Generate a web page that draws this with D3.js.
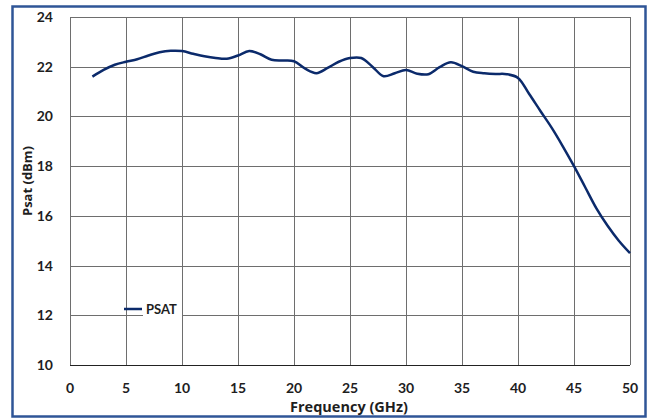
<!DOCTYPE html>
<html lang="en">
<head>
    <meta charset="UTF-8">
    <title>psat</title>
    <style>
        body { margin: 0; background: #fff; }
        text { font-family: Lato, "Open Sans", sans-serif; font-weight: bold; fill: #1e1e1e; }
        .title { font-family: "Open Sans", Lato, sans-serif; }
    </style>
</head>
<body>
<script src="https://cdn.jsdelivr.net/npm/d3@7"></script>
<script>

// frequency (GHz) and saturated power (dBm)
const freq = [2, 3, 4, 5, 6, 7, 8, 9, 10, 11, 12, 13, 14, 15, 16, 17, 18, 19, 20,
    21, 22, 23, 24, 25, 26, 27, 28, 29, 30, 31, 32, 33, 34, 35, 36, 37, 38, 39, 40,
    41, 42, 43, 44, 45, 46, 47, 48, 49, 50];
const psat = [21.6, 21.87, 22.08, 22.2, 22.3, 22.45, 22.58, 22.64, 22.63, 22.52, 22.42,
    22.35, 22.32, 22.45, 22.63, 22.5, 22.28, 22.25, 22.22, 21.92, 21.74, 21.95, 22.2,
    22.35, 22.35, 22.0, 21.62, 21.74, 21.87, 21.72, 21.7, 21.98, 22.18, 22.02, 21.8,
    21.74, 21.71, 21.7, 21.55, 20.9, 20.22, 19.55, 18.8, 18.0, 17.15, 16.3, 15.6, 15.0, 14.5];

const xTicks = [0, 5, 10, 15, 20, 25, 30, 35, 40, 45, 50];
const yTicks = [10, 12, 14, 16, 18, 20, 22, 24];
const seriesName = 'PSAT';

const width = 654, height = 419;
const lineColor = '#0b2a6b';
const frameColor = '#2f5597';
const gridColor = '#6e6e6e';

let svg = d3.select('body')
    .append('svg')
    .attr('width', width)
    .attr('height', height);

// frame
svg.append('rect')
    .attr('x', 12.5)
    .attr('y', 6.5)
    .attr('width', 633)
    .attr('height', 410)
    .attr('fill', 'white')
    .attr('stroke', frameColor)
    .attr('stroke-width', 2.5);

let x = d3.scaleLinear().domain([0, 50]).range([70, 630]);
let y = d3.scaleLinear().domain([10, 24]).range([365, 17]);

// grid
svg.selectAll('.vgrid')
    .data(xTicks)
    .enter()
    .append('line')
    .attr('class', 'vgrid')
    .attr('x1', d => Math.round(x(d)) + 0.5)
    .attr('x2', d => Math.round(x(d)) + 0.5)
    .attr('y1', y(24))
    .attr('y2', y(10))
    .attr('stroke', gridColor)
    .attr('stroke-width', 1);

svg.selectAll('.hgrid')
    .data(yTicks)
    .enter()
    .append('line')
    .attr('class', 'hgrid')
    .attr('x1', x(0))
    .attr('x2', x(50))
    .attr('y1', d => Math.round(y(d)) + 0.5)
    .attr('y2', d => Math.round(y(d)) + 0.5)
    .attr('stroke', d => d === 10 ? '#222' : gridColor)
    .attr('stroke-width', 1);

// tick labels
svg.selectAll('.xlab')
    .data(xTicks)
    .enter()
    .append('text')
    .attr('class', 'xlab')
    .attr('x', d => x(d))
    .attr('y', 393)
    .attr('text-anchor', 'middle')
    .style('font-size', '14px')
    .text(d => d);

svg.selectAll('.ylab')
    .data(yTicks)
    .enter()
    .append('text')
    .attr('class', 'ylab')
    .attr('x', 53)
    .attr('y', d => y(d) + 5)
    .attr('text-anchor', 'end')
    .style('font-size', '14px')
    .text(d => d);

// axis titles
svg.append('text')
    .attr('class', 'title')
    .attr('x', 349)
    .attr('y', 412)
    .attr('text-anchor', 'middle')
    .style('font-size', '14.5px')
    .text('Frequency (GHz)');

svg.append('text')
    .attr('class', 'title')
    .attr('transform', 'translate(32,181) rotate(-90)')
    .attr('text-anchor', 'middle')
    .style('font-size', '13px')
    .text('Psat (dBm)');

// data line
let line = d3.line()
    .x((d, i) => x(freq[i]))
    .y(d => y(d))
    .curve(d3.curveCatmullRom.alpha(0.5));

svg.append('path')
    .datum(psat)
    .attr('d', line)
    .attr('fill', 'none')
    .attr('stroke', lineColor)
    .attr('stroke-width', 2.5);

// legend
svg.append('rect')
    .attr('x', 143)
    .attr('y', 295)
    .attr('width', 39)
    .attr('height', 25)
    .attr('fill', 'white');

svg.append('line')
    .attr('x1', 124)
    .attr('x2', 142)
    .attr('y1', 309)
    .attr('y2', 309)
    .attr('stroke', lineColor)
    .attr('stroke-width', 2.5);

svg.append('text')
    .attr('x', 146)
    .attr('y', 314)
    .style('font-size', '13px')
    .text(seriesName);

</script>
</body>
</html>
